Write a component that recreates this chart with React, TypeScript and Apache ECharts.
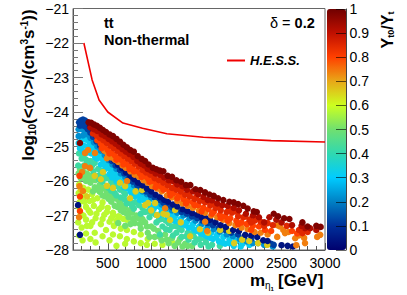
import React, { useEffect, useRef } from "react";
import * as echarts from "echarts";

const FONT = "Liberation Sans";

const xMajorTicks = [500, 1000, 1500, 2000, 2500, 3000];
const colorStops = ["#00006e", "#00309a", "#0080c4", "#00ccff", "#30d8b0", "#70e070", "#ccff20", "#e8a818", "#ff4000", "#c01000", "#700000"];

const hessMass = [225, 320, 400, 500, 675, 900, 1180, 1600, 2380, 3000];
const hessLimit = [-22, -23.07, -23.65, -24, -24.32, -24.47, -24.63, -24.73, -24.83, -24.87];

const yellowGreen = [[170,-26.1],[220,-26.2],[275,-26.25],[165,-26.35],[240,-26.42],[320,-26.38],[380,-26.5],[200,-26.55],[290,-26.58],[440,-26.62],[165,-26.75],[250,-26.75],[340,-26.72],[500,-26.78],[400,-26.82],[560,-26.92],[190,-26.95],[300,-26.92],[460,-26.98],[560,-27.0],[620,-27.02],[640,-27.05],[680,-27.1],[720,-27.12],[250,-27.12],[360,-27.08],[520,-27.18],[160,-27.2],[420,-27.25],[570,-27.3],[300,-27.3],[200,-27.35],[650,-27.38],[480,-27.42],[720,-27.42],[800,-27.48],[880,-27.55],[350,-27.5],[250,-27.52],[170,-27.58],[560,-27.55],[640,-27.6],[960,-27.68],[440,-27.6],[720,-27.68],[1040,-27.82],[300,-27.68],[210,-27.72],[520,-27.72],[800,-27.75],[880,-27.8],[360,-27.78],[600,-27.88],[950,-27.85],[700,-27.82],[1130,-27.85],[1240,-27.78],[180,-26.6],[230,-26.6],[330,-26.55],[280,-26.85],[430,-26.75],[370,-26.95],[220,-27.0],[320,-27.2],[260,-27.3],[490,-26.9],[540,-27.08],[440,-27.1],[600,-27.15]];
const green = [[165,-25.78],[215,-25.72],[260,-25.78],[310,-25.85],[190,-25.92],[355,-25.98],[250,-26.0],[300,-26.05],[405,-26.12],[350,-26.18],[460,-26.22],[520,-26.38],[410,-26.32],[580,-26.5],[470,-26.45],[640,-26.62],[540,-26.6],[700,-26.78],[610,-26.75],[780,-26.92],[680,-26.9],[850,-27.08],[740,-27.05],[930,-27.2],[810,-27.22],[1000,-27.32],[880,-27.38],[1080,-27.45],[960,-27.5],[1160,-27.55],[1040,-27.62],[1240,-27.65],[1120,-27.72],[1310,-27.78],[1200,-27.8],[1390,-27.82],[1270,-27.88],[1470,-27.88],[1360,-27.9],[700,-27.3],[180,-25.65],[240,-25.85],[330,-25.95],[280,-25.95],[430,-26.18],[380,-26.25],[330,-26.3],[490,-26.32],[560,-26.45],[440,-26.42],[620,-26.55],[670,-26.72],[510,-26.52],[580,-26.72],[750,-26.85],[650,-26.85],[720,-26.95],[830,-27.0],[790,-27.1],[900,-27.1],[870,-27.25],[950,-27.32],[1030,-27.38],[1100,-27.62],[980,-27.62],[1180,-27.7],[760,-27.25],[620,-27.22],[1330,-27.68],[1420,-27.88]];
const teal = [[170,-25.2],[200,-25.35],[250,-25.38],[300,-25.42],[350,-25.48],[160,-25.55],[225,-25.55],[280,-25.6],[390,-25.65],[335,-25.72],[440,-25.78],[390,-25.85],[490,-25.92],[540,-26.02],[440,-26.02],[590,-26.15],[640,-26.25],[510,-26.2],[700,-26.38],[580,-26.35],[750,-26.52],[650,-26.48],[820,-26.62],[720,-26.65],[900,-26.78],[800,-26.8],[960,-26.88],[1050,-26.98],[880,-26.95],[1120,-27.1],[980,-27.05],[1200,-27.22],[1060,-27.2],[1280,-27.3],[1130,-27.32],[1350,-27.42],[1210,-27.42],[1420,-27.5],[1290,-27.5],[1490,-27.6],[1350,-27.62],[1560,-27.68],[1430,-27.7],[1630,-27.78],[1500,-27.78],[1700,-27.85],[1570,-27.85],[1790,-27.88],[1660,-27.9],[220,-25.3],[320,-25.55],[260,-25.5],[420,-25.7],[470,-25.88],[400,-25.95],[560,-26.1],[620,-26.1],[540,-26.28],[680,-26.3],[600,-26.42],[770,-26.62],[700,-26.55],[860,-26.7],[780,-26.72],[930,-26.9],[1010,-26.92],[1090,-27.12],[1170,-27.15],[1240,-27.32],[1320,-27.35],[1170,-27.4],[1400,-27.6],[1480,-27.5],[1530,-27.7],[1620,-27.68],[1250,-27.58],[1100,-27.55]];
const cyan = [[165,-24.9],[205,-24.8],[250,-24.8],[290,-24.88],[180,-25.05],[225,-24.98],[270,-25.0],[320,-25.02],[360,-25.12],[215,-25.15],[260,-25.18],[310,-25.2],[400,-25.25],[445,-25.38],[355,-25.32],[490,-25.52],[535,-25.65],[420,-25.52],[470,-25.65],[580,-25.78],[630,-25.88],[520,-25.8],[680,-26.0],[730,-26.1],[600,-26.0],[780,-26.22],[830,-26.3],[690,-26.18],[880,-26.4],[930,-26.48],[780,-26.4],[980,-26.55],[1040,-26.65],[870,-26.55],[1100,-26.75],[950,-26.68],[1160,-26.85],[1030,-26.8],[1220,-26.95],[1280,-27.0],[1120,-26.9],[1340,-27.1],[1190,-27.05],[1410,-27.18],[1270,-27.15],[1480,-27.25],[1350,-27.25],[1550,-27.33],[1430,-27.35],[1620,-27.42],[1500,-27.42],[1690,-27.5],[1570,-27.52],[1760,-27.55],[1640,-27.6],[1830,-27.62],[1710,-27.68],[1900,-27.7],[1780,-27.75],[1970,-27.75],[1850,-27.82],[2050,-27.82],[1950,-27.88],[2130,-27.85],[2030,-27.9],[200,-25.0],[300,-25.1],[340,-25.2],[380,-25.35],[450,-25.5],[500,-25.6],[560,-25.72],[610,-25.9],[550,-25.9],[650,-26.05],[720,-26.2],[760,-26.3],[810,-26.45],[850,-26.42],[910,-26.55],[990,-26.72],[1070,-26.72],[1130,-26.82],[1090,-27.0],[1190,-26.95],[1250,-27.08],[1310,-27.18],[1390,-27.28],[1460,-27.35],[1530,-27.45],[1600,-27.55],[1680,-27.65],[1750,-27.62],[1820,-27.78],[1900,-27.8],[1990,-27.72]];
const mediumBlue = [[165,-24.5],[200,-24.5],[235,-24.55],[270,-24.65],[165,-24.7],[215,-24.68],[300,-24.75],[340,-24.88],[380,-25.0],[420,-25.12],[465,-25.25],[510,-25.4],[555,-25.52],[600,-25.65],[650,-25.78],[700,-25.88],[750,-26.0],[800,-26.12],[850,-26.2],[900,-26.3],[950,-26.38],[1000,-26.48],[1060,-26.58],[1120,-26.68],[1180,-26.78],[1240,-26.85],[1300,-26.92],[1370,-27.0],[1440,-27.08],[1510,-27.15],[1580,-27.25],[1650,-27.32],[1720,-27.4],[1790,-27.47],[1870,-27.55],[1940,-27.6],[2020,-27.68],[2100,-27.75],[2170,-27.8],[2230,-27.8],[2300,-27.85],[2400,-27.9]];
const blue = [[170,-24.3],[190,-24.25],[215,-24.22],[240,-24.25],[265,-24.32],[180,-24.4],[210,-24.38],[240,-24.42],[270,-24.5],[300,-24.6],[330,-24.72],[370,-24.85],[410,-24.98],[455,-25.12],[500,-25.28],[545,-25.42],[590,-25.55],[640,-25.68],[690,-25.78],[740,-25.92],[790,-26.02],[840,-26.12],[890,-26.22],[940,-26.3],[990,-26.4],[1040,-26.48],[1090,-26.55],[1140,-26.63],[1190,-26.7],[1240,-26.76],[1290,-26.82],[1350,-26.9],[1410,-26.95],[1470,-27.03],[1530,-27.08],[1590,-27.15],[1650,-27.22],[1710,-27.28],[1780,-27.35],[1850,-27.42],[1920,-27.5],[2000,-27.55],[2070,-27.62],[2150,-27.68],[2380,-27.82],[2410,-27.85]];
const darkBlue = [[296,-24.43],[330,-24.55],[365,-24.68],[400,-24.82],[446,-25.0],[490,-25.13],[535,-25.28],[575,-25.4],[618,-25.53],[665,-25.63],[710,-25.75],[760,-25.86],[805,-25.95],[849,-26.05],[900,-26.13],[950,-26.22],[1000,-26.3],[1050,-26.4],[1100,-26.47],[1150,-26.55],[1194,-26.6],[1250,-26.68],[1300,-26.74],[1360,-26.82],[1415,-26.87],[1471,-26.93],[1530,-26.98],[1580,-27.05],[1630,-27.08],[1678,-27.13],[1740,-27.2],[1800,-27.28],[1860,-27.33],[1943,-27.42],[2010,-27.45],[2082,-27.56],[2150,-27.58],[2220,-27.62],[2289,-27.72],[2340,-27.74],[2500,-27.86],[2570,-27.88],[2630,-27.9],[180,-27.56],[158,-26.7]];
const yellow = [[560,-26.2],[757,-26.5],[490,-26.14],[964,-26.64],[895,-26.26],[1217,-27.13],[1068,-26.99],[1448,-27.6],[1655,-27.5],[1793,-27.42],[2047,-27.7],[2230,-27.8],[1897,-27.45],[1955,-27.8],[2128,-27.74],[2335,-27.85],[930,-26.7],[1045,-26.64],[1275,-26.84],[445,-25.74],[640,-26.05],[1140,-26.95],[1340,-27.2],[1560,-27.4],[350,-25.85],[260,-26.45],[190,-26.25],[820,-26.3],[1000,-26.85],[1180,-26.98],[420,-25.95],[700,-26.15]];
const orange = [[460,-25.12],[500,-25.22],[540,-25.32],[580,-25.38],[620,-25.45],[670,-25.55],[710,-25.62],[760,-25.72],[810,-25.82],[860,-25.88],[910,-25.98],[960,-26.05],[1010,-26.15],[1070,-26.22],[1120,-26.3],[1180,-26.42],[1240,-26.48],[1300,-26.58],[1360,-26.65],[1420,-26.72],[1480,-26.78],[1550,-26.85],[1620,-26.92],[1690,-27.0],[1760,-27.05],[1830,-27.12],[1900,-27.22],[1970,-27.28],[2040,-27.35],[2110,-27.4],[2190,-27.48],[2260,-27.5],[2340,-27.55],[2450,-27.28],[2480,-27.32],[2540,-27.51],[2580,-27.48],[2450,-27.62],[2657,-27.66],[2760,-27.65],[2770,-27.8],[2910,-27.62],[2945,-27.56],[2670,-27.86],[2520,-27.42],[2700,-27.58],[204,-25.74],[353,-25.19],[238,-25.19],[296,-25.62],[273,-25.1],[215,-26.29],[238,-25.57],[490,-25.34],[722,-26.0],[1160,-26.79],[1644,-27.45],[1620,-27.18],[175,-26.15],[170,-27.05]];
const orangeRed = [[380,-24.82],[420,-24.92],[460,-25.0],[500,-25.1],[540,-25.18],[580,-25.25],[620,-25.33],[660,-25.4],[700,-25.48],[740,-25.55],[780,-25.62],[830,-25.7],[870,-25.78],[915,-25.85],[960,-25.92],[1010,-26.0],[1060,-26.08],[1110,-26.15],[1160,-26.22],[1210,-26.3],[1260,-26.35],[1320,-26.42],[1370,-26.52],[1420,-26.58],[1480,-26.62],[1540,-26.7],[1600,-26.78],[1660,-26.82],[1720,-26.9],[1790,-26.98],[1850,-27.02],[1910,-27.08],[1980,-27.15],[2040,-27.2],[2100,-27.25],[2170,-27.3],[2240,-27.32],[2310,-27.42],[2380,-27.45],[2620,-27.45],[2680,-27.52],[180,-26.87],[175,-25.85],[180,-26.45],[430,-25.05],[520,-25.2],[600,-25.38],[680,-25.52],[750,-25.65],[800,-25.72],[890,-25.88],[980,-26.02],[1050,-26.18],[1140,-26.25],[1220,-26.42],[1300,-26.5],[1400,-26.65],[1500,-26.7],[1580,-26.88],[1700,-26.95],[1800,-27.08],[1880,-27.15],[2000,-27.25],[2150,-27.42]];
const red = [[330,-24.62],[370,-24.68],[410,-24.75],[450,-24.82],[490,-24.9],[530,-24.98],[570,-25.05],[610,-25.12],[650,-25.2],[690,-25.28],[730,-25.35],[770,-25.42],[810,-25.5],[855,-25.58],[900,-25.68],[940,-25.75],[990,-25.82],[1040,-25.92],[1090,-25.98],[1140,-26.05],[1190,-26.12],[1240,-26.2],[1290,-26.25],[1340,-26.3],[1390,-26.4],[1445,-26.45],[1500,-26.52],[1560,-26.58],[1620,-26.62],[1680,-26.7],[1740,-26.78],[1800,-26.85],[1870,-26.9],[1930,-26.92],[2000,-27.02],[2060,-27.05],[2130,-27.12],[2190,-27.15],[2260,-27.18],[2340,-27.22],[2300,-27.3],[2400,-27.28],[2700,-27.42],[2740,-27.51],[2800,-27.48],[2560,-27.3],[350,-24.6],[400,-24.65],[480,-24.8],[550,-24.95],[600,-25.0],[640,-25.1],[700,-25.22],[760,-25.35],[820,-25.45],[900,-25.6],[970,-25.75],[1030,-25.85],[1120,-25.92],[1200,-26.05],[1280,-26.15],[1350,-26.22],[1430,-26.35],[1520,-26.45],[1600,-26.55],[1700,-26.65],[1790,-26.75],[1900,-26.82],[1990,-26.9],[2080,-27.03],[2210,-27.1],[2150,-27.2]];
const deepRed = [[300,-24.45],[340,-24.5],[380,-24.55],[430,-24.65],[470,-24.7],[510,-24.78],[550,-24.85],[590,-24.92],[630,-25.0],[670,-25.08],[710,-25.15],[750,-25.22],[795,-25.3],[840,-25.42],[880,-25.5],[920,-25.55],[960,-25.65],[1000,-25.7],[1050,-25.78],[1100,-25.82],[1150,-25.9],[1200,-25.98],[1250,-26.0],[1300,-26.1],[1360,-26.15],[1410,-26.25],[1480,-26.3],[1540,-26.38],[1600,-26.46],[1650,-26.55],[1700,-26.56],[1760,-26.65],[1820,-26.7],[1880,-26.72],[1950,-26.78],[2010,-26.85],[2090,-26.95],[2170,-27.0],[2240,-27.05],[2300,-27.2],[2360,-27.05],[2440,-27.12],[2500,-27.2],[2620,-27.28],[2730,-27.3],[2770,-27.37],[2830,-27.37],[2900,-27.42]];
const darkRed = [[180,-24.9],[280,-24.3],[310,-24.31],[340,-24.36],[375,-24.4],[410,-24.46],[445,-24.52],[480,-24.58],[520,-24.65],[560,-24.7],[600,-24.78],[640,-24.86],[680,-24.95],[720,-25.02],[760,-25.1],[800,-25.15],[845,-25.28],[890,-25.36],[930,-25.42],[970,-25.52],[1020,-25.62],[1060,-25.66],[1100,-25.7],[1140,-25.72],[1190,-25.85],[1240,-25.88],[1290,-25.98],[1345,-26.02],[1400,-26.12],[1450,-26.12],[1510,-26.24],[1565,-26.26],[1620,-26.33],[1670,-26.39],[1720,-26.43],[1770,-26.5],[1830,-26.55],[1900,-26.6],[1950,-26.62],[2000,-26.67],[2060,-26.72],[2110,-26.8],[2180,-26.88],[2215,-26.9],[2410,-26.95],[2460,-27.02],[2530,-27.08],[2590,-27.1],[2740,-27.2],[2800,-27.32],[2900,-27.3],[2950,-27.33]];

const bands: [number[][], number][] = [
  [yellowGreen, 0.58], [green, 0.5], [teal, 0.42], [cyan, 0.32], [mediumBlue, 0.22], [blue, 0.12],
  [yellow, 0.66], [darkBlue, 0.04], [orange, 0.74], [orangeRed, 0.8], [red, 0.85], [deepRed, 0.92], [darkRed, 0.98],
];

const minus = (v: number) => String(v).replace("-", "\u2212");

export default function App() {
  const ref = useRef<HTMLDivElement>(null);
  useEffect(() => {
    const chart = echarts.init(ref.current!, null, { renderer: "svg" });
    const frame = "#555";
    chart.setOption({
      animation: false,
      backgroundColor: "#fff",
      textStyle: { fontFamily: FONT },
      grid: [
        { left: 73, top: 8.5, width: 252, height: 241.5, show: true, borderColor: "#666", borderWidth: 1, backgroundColor: "transparent" },
        { left: 346, top: 9, width: 0.5, height: 241 },
      ],
      xAxis: [
        {
          type: "value", gridIndex: 0, min: 100, max: 3000, interval: 100, position: "bottom",
          axisLine: { show: true, lineStyle: { color: frame } },
          axisTick: { show: true, inside: true, length: 4, lineStyle: { color: frame } },
          axisLabel: { show: false }, splitLine: { show: false },
        },
        {
          type: "value", gridIndex: 0, min: 100, max: 3000, position: "bottom",
          axisLine: { show: false },
          axisTick: { show: true, inside: true, length: 7, customValues: xMajorTicks, lineStyle: { color: frame } },
          axisLabel: { show: true, customValues: xMajorTicks, color: "#000", fontSize: 14, fontFamily: FONT, margin: 6, hideOverlap: false, formatter: (v: number) => String(v) },
          splitLine: { show: false },
        },
        { type: "value", gridIndex: 1, show: false, min: 0, max: 1 },
      ],
      yAxis: [
        {
          type: "value", gridIndex: 0, min: -28, max: -21, interval: 1,
          axisLine: { show: true, lineStyle: { color: frame } },
          axisTick: { show: true, inside: true, length: 10, lineStyle: { color: "#777" } },
          minorTick: { show: true, splitNumber: 5, length: 5, lineStyle: { color: "#777" } },
          axisLabel: { color: "#000", fontSize: 14, fontFamily: FONT, margin: 4, formatter: minus },
          splitLine: { show: false },
        },
        {
          type: "value", gridIndex: 1, min: 0, max: 1, interval: 0.1, position: "right", z: 10,
          axisLine: { show: true, lineStyle: { color: "#444" } },
          axisTick: { show: true, inside: true, length: 10, lineStyle: { color: "rgba(0,0,0,0.6)" } },
          axisLabel: { color: "#000", fontSize: 14, fontFamily: FONT, margin: 3, formatter: (v: number) => String(Math.round(v * 10) / 10) },
          splitLine: { show: false },
        },
      ],
      visualMap: {
        type: "continuous", seriesIndex: 0, dimension: 2, min: 0, max: 1, calculable: false, hoverLink: false,
        left: 327, top: 9, itemWidth: 19, itemHeight: 241, text: ["", ""], padding: 0,
        inRange: { color: colorStops },
      },
      legend: {
        data: ["H.E.S.S."], left: 227, top: 54, itemWidth: 18, itemHeight: 2, itemGap: 4, padding: 0, icon: "rect",
        textStyle: { fontSize: 13, fontWeight: "bold", fontStyle: "italic", color: "#000", fontFamily: FONT },
      },
      series: [
        {
          type: "scatter", xAxisIndex: 0, yAxisIndex: 0, symbolSize: 6.5, clip: true, name: "points",
          itemStyle: { opacity: 1 }, large: false,
          data: bands.flatMap(([pts, z]) => pts.map(([x, y]) => [x, y, z])),
        },
        {
          type: "line", name: "H.E.S.S.", xAxisIndex: 0, yAxisIndex: 0, symbol: "none", z: 5,
          lineStyle: { color: "#f00000", width: 1.6 }, itemStyle: { color: "#f00000" },
          data: hessMass.map((m, i) => [m, hessLimit[i]]),
        },
      ],
      graphic: [
        { type: "text", left: 104, top: 15, style: { text: "tt", font: `bold 14.5px "${FONT}"`, fill: "#000" } },
        { type: "text", left: 104, top: 32, style: { text: "Non-thermal", font: `bold 14.5px "${FONT}"`, fill: "#000" } },
        { type: "text", left: 270, top: 15, style: { text: "{a|\u03b4 = }{b|0.2}", fill: "#000", rich: { a: { font: `14.5px "${FONT}"`, fill: "#000" }, b: { font: `bold 14.5px "${FONT}"`, fill: "#000" } } } },
        {
          type: "text", x: 28, y: 85, rotation: Math.PI / 2, z: 20,
          style: {
            text: "{m|log}{s|10}{m|(<}{n|\u03c3v}{m|>/(cm}{u|3}{m|s}{u|-1}{m|))}",
            align: "center", verticalAlign: "middle", fill: "#000",
            rich: {
              m: { font: `bold 17px "${FONT}"`, fill: "#000" },
              n: { font: `17px "${FONT}"`, fill: "#000" },
              s: { font: `bold 10px "${FONT}"`, fill: "#000", padding: [8, 0, 0, 0] },
              u: { font: `bold 10px "${FONT}"`, fill: "#000", padding: [0, 0, 7, 0] },
            },
          },
        },
        { type: "text", x: 250, y: 272, z: 20, style: { text: "m", font: `bold 17px "${FONT}"`, fill: "#000" } },
        { type: "text", x: 265, y: 280, z: 20, style: { text: "\u03b7", font: `10px "${FONT}"`, fill: "#000" } },
        { type: "text", x: 270.5, y: 286, z: 20, style: { text: "1", font: `bold 6px "${FONT}"`, fill: "#000" } },
        { type: "text", x: 278, y: 272, z: 20, style: { text: "[GeV]", font: `bold 17px "${FONT}"`, fill: "#000" } },
        {
          type: "text", x: 387, y: 30, rotation: Math.PI / 2, z: 20,
          style: {
            text: "{m|Y}{s|t0}{m|/Y}{s|t}",
            align: "center", verticalAlign: "middle", fill: "#000",
            rich: {
              m: { font: `bold 16px "${FONT}"`, fill: "#000" },
              s: { font: `bold 9px "${FONT}"`, fill: "#000", padding: [7, 0, 0, 0] },
            },
          },
        },
      ],
    });
    return () => chart.dispose();
  }, []);
  return <div ref={ref} style={{ position: "absolute", left: 0, top: 0, width: 407, height: 295 }} />;
}
